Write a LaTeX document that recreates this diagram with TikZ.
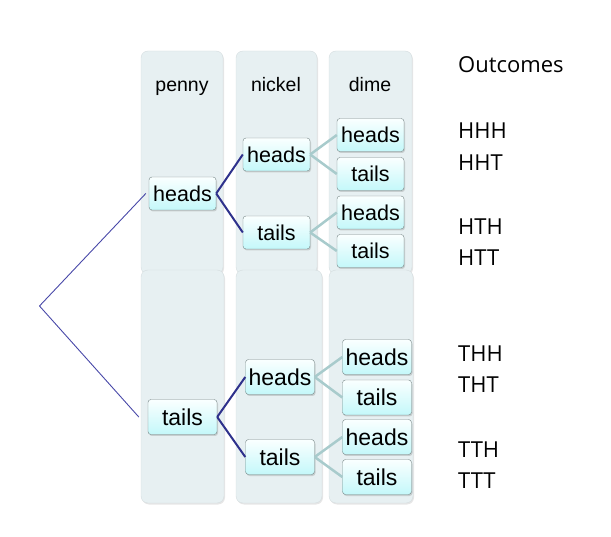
\documentclass[tikz,border=0pt]{standalone}
\usepackage{fontspec}
\setmainfont{Liberation Sans}
\newfontfamily\outfont{Open Sans}
\usetikzlibrary{shadows}

\definecolor{panelfill}{RGB}{231,240,242}
\definecolor{boxtop}{RGB}{250,255,255}
\definecolor{boxbottom}{RGB}{196,248,250}
\definecolor{boxline}{RGB}{118,134,134}
\definecolor{pennyline}{RGB}{46,49,140}
\definecolor{dimeline}{RGB}{168,203,204}
\definecolor{rootline}{RGB}{72,72,168}

\begin{document}
\begin{tikzpicture}[
    x=1pt,
    y=-1pt,
    panel/.style={
        fill=panelfill,
        draw=panelfill!92!black,
        rounded corners=7pt,
        drop shadow={opacity=0.2, shadow xshift=1pt, shadow yshift=-1.5pt}
    },
    coin/.style={
        draw=boxline,
        rounded corners=3pt,
        top color=boxtop,
        bottom color=boxbottom,
        minimum width=67pt,
        minimum height=33pt,
        inner sep=1pt,
        font=\fontsize{21.5}{24}\selectfont,
        drop shadow={opacity=0.3, shadow xshift=1pt, shadow yshift=-1.5pt}
    },
    bigcoin/.style={
        coin,
        minimum width=69pt,
        minimum height=35pt,
        font=\fontsize{23}{26}\selectfont
    },
    label/.style={
        anchor=base,
        font=\fontsize{19.5}{22}\selectfont
    },
    outcome/.style={
        anchor=base west,
        inner sep=0pt,
        font=\outfont\fontsize{22}{26}\selectfont
    },
    pedge/.style={
        draw=pennyline,
        line width=2pt
    },
    dedge/.style={
        draw=dimeline,
        line width=2.5pt
    },
    redge/.style={
        draw=rootline,
        line width=0.9pt
    }
]
\useasboundingbox (0,0) rectangle (611,537);

% column panels, upper half
\draw[panel] (141,51) rectangle (223,274);
\draw[panel] (236,51) rectangle (317,274);
\draw[panel] (329,51) rectangle (412,274);

% column panels, lower half
\draw[panel] (141,270) rectangle (224,503);
\draw[panel] (236,270) rectangle (322,503);
\draw[panel] (329,270) rectangle (413,503);

% column labels
\node[label] (penny) at (182,92) {penny};
\node[label] (nickel) at (276,92) {nickel};
\node[label] (dime) at (370,92) {dime};

% first toss
\coordinate (root) at (39.5,306);
\node[coin] (H) at (182.5,193.5) {heads};
\node[bigcoin] (T) at (182.5,417) {tails};

% second toss
\node[coin] (HH) at (276.5,154.5) {heads};
\node[coin] (HT) at (276.5,232.5) {tails};
\node[bigcoin] (TH) at (280,377) {heads};
\node[bigcoin] (TT) at (280,457) {tails};

% third toss
\node[coin] (HHH) at (370.5,135) {heads};
\node[coin] (HHT) at (370.5,174) {tails};
\node[coin] (HTH) at (370.5,212.5) {heads};
\node[coin] (HTT) at (370.5,251) {tails};
\node[bigcoin] (THH) at (377,357) {heads};
\node[bigcoin] (THT) at (377,397.5) {tails};
\node[bigcoin] (TTH) at (377,437) {heads};
\node[bigcoin] (TTT) at (377,477) {tails};

% outcomes
\node[outcome] (out) at (458,73) {Outcomes};
\node[outcome] (oHHH) at (458,139) {HHH};
\node[outcome] (oHHT) at (458,170.5) {HHT};
\node[outcome] (oHTH) at (458,235) {HTH};
\node[outcome] (oHTT) at (458,266) {HTT};
\node[outcome] (oTHH) at (458,361.5) {THH};
\node[outcome] (oTHT) at (458,393) {THT};
\node[outcome] (oTTH) at (458,457.5) {TTH};
\node[outcome] (oTTT) at (458,489) {TTT};

% root branches
\draw[redge] (root) -- ([xshift=-3pt]H.west);
\draw[redge] (root) -- ([xshift=-9pt]T.west);

% penny to nickel
\draw[pedge] (H.east) -- (HH.west);
\draw[pedge] (H.east) -- (HT.west);
\draw[pedge] (T.east) -- (TH.west);
\draw[pedge] (T.east) -- (TT.west);

% nickel to dime
\draw[dedge] (HH.east) -- (HHH.west);
\draw[dedge] (HH.east) -- (HHT.west);
\draw[dedge] (HT.east) -- (HTH.west);
\draw[dedge] (HT.east) -- (HTT.west);
\draw[dedge] (TH.east) -- (THH.west);
\draw[dedge] (TH.east) -- (THT.west);
\draw[dedge] (TT.east) -- (TTH.west);
\draw[dedge] (TT.east) -- (TTT.west);

\end{tikzpicture}
\end{document}
